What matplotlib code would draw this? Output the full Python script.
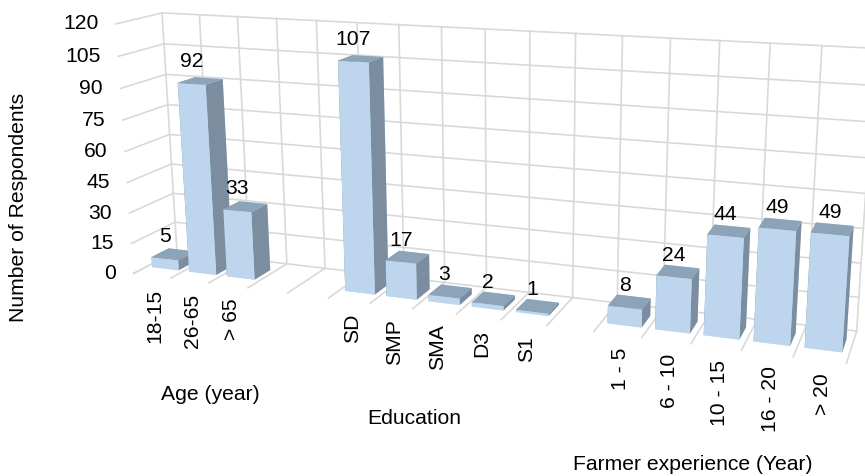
import numpy as np
import matplotlib
matplotlib.use("Agg")
import matplotlib.pyplot as plt
from mpl_toolkits.mplot3d import proj3d

plt.rcParams['font.family'] = ['Liberation Sans', 'DejaVu Sans']

# Survey counts, grouped by category along the x axis
slot_labels = ['18-15', '26-65', '> 65', 'SD', 'SMP', 'SMA', 'D3', 'S1',
               '1 - 5', '6 - 10', '10 - 15', '16 - 20', '> 20']
slot_index = [0, 1, 2, 5, 6, 7, 8, 9, 11, 12, 13, 14, 15]
respondents = [5, 92, 33, 107, 17, 3, 2, 1, 8, 24, 44, 49, 49]
z_ticks = list(range(0, 121, 15))
n_slots = 16

GRID = '#D9D9D9'
FRONT, TOP, SIDE = '#BDD6EE', '#8CA3B8', '#7B8D9F'
BAR_W = 0.72
DEPTH_FROM, DEPTH_TO = 0.3, 0.7
FONT = 15.2
PX = 72 / 100  # points per pixel at 100 dpi

W, H = 865, 476
fig = plt.figure(figsize=(W / 100, H / 100), dpi=100)
ax = fig.add_axes([0.07805, -0.20662, 0.90794, 1.64994], projection='3d')
ax.set_xlim(0, n_slots, view_margin=0)
ax.set_ylim(0, 1, view_margin=0)
ax.set_zlim(0, 120, view_margin=0)
ax.set_axis_off()
ax.view_init(14.3742, -68.9695, 0.4433)
ax.set_proj_type('persp', focal_length=float(np.exp(-1.1105)))
ax.set_box_aspect((4, float(np.exp(-0.7858)), float(np.exp(0.3691))))
ax.computed_zorder = False
camera = ax.get_proj()


def label_at(x, y, z, text, dx=0, dy=0, **kw):
    """Place a label at a scene position, shifted by a fixed pixel offset."""
    u, v, _ = proj3d.proj_transform(x, y, z, camera)
    return ax.annotate(text, xy=(u, v), xycoords='data', xytext=(dx * PX, dy * PX),
                       textcoords='offset points', fontsize=FONT, color='black',
                       annotation_clip=False, zorder=40, **kw)


# Left wall, back wall and floor gridlines
for z in z_ticks:
    ax.plot([0, 0, n_slots], [0, 1, 1], [z, z, z], color=GRID, lw=1.2, clip_on=False, zorder=1)
for i in range(n_slots + 1):
    ax.plot([i, i], [0, 1], [0, 0], color=GRID, lw=1.2, clip_on=False, zorder=1)
    ax.plot([i, i], [1, 1], [0, 120], color=GRID, lw=1.2, clip_on=False, zorder=1)

# bar3d face order: bottom, top, front, back, left, right
faces = [FRONT, TOP, FRONT, FRONT, SIDE, SIDE]
for k, (i, n) in enumerate(zip(slot_index, respondents)):
    bar = ax.bar3d(i + (1 - BAR_W) / 2, DEPTH_FROM, 0, BAR_W, DEPTH_TO - DEPTH_FROM, n,
                   color=faces, shade=False, zorder=10 + k)
    bar.set_clip_on(False)
    label_at(i + 0.5, DEPTH_FROM, n, str(n), dy=22, ha='center', va='center')

# Category labels under the front edge of the floor
for i, lab in zip(slot_index, slot_labels):
    label_at(i + 0.5, 0, 0, lab, dx=3, dy=-13, rotation=90, ha='center', va='top')

# Value axis labels along the left edge
for z in z_ticks:
    label_at(0, 0, z, str(z), dx=-17.5, ha='right', va='center')

fig.text(19 / W, 1 - 207 / H, 'Number of Respondents', rotation=90, ha='center', va='center', fontsize=FONT)
fig.text(210 / W, 1 - 395 / H, 'Age (year)', ha='center', va='center', fontsize=FONT)
fig.text(414 / W, 1 - 419 / H, 'Education', ha='center', va='center', fontsize=FONT)
fig.text(693 / W, 1 - 465 / H, 'Farmer experience (Year)', ha='center', va='center', fontsize=FONT)

fig.savefig('out.png', dpi=100)
